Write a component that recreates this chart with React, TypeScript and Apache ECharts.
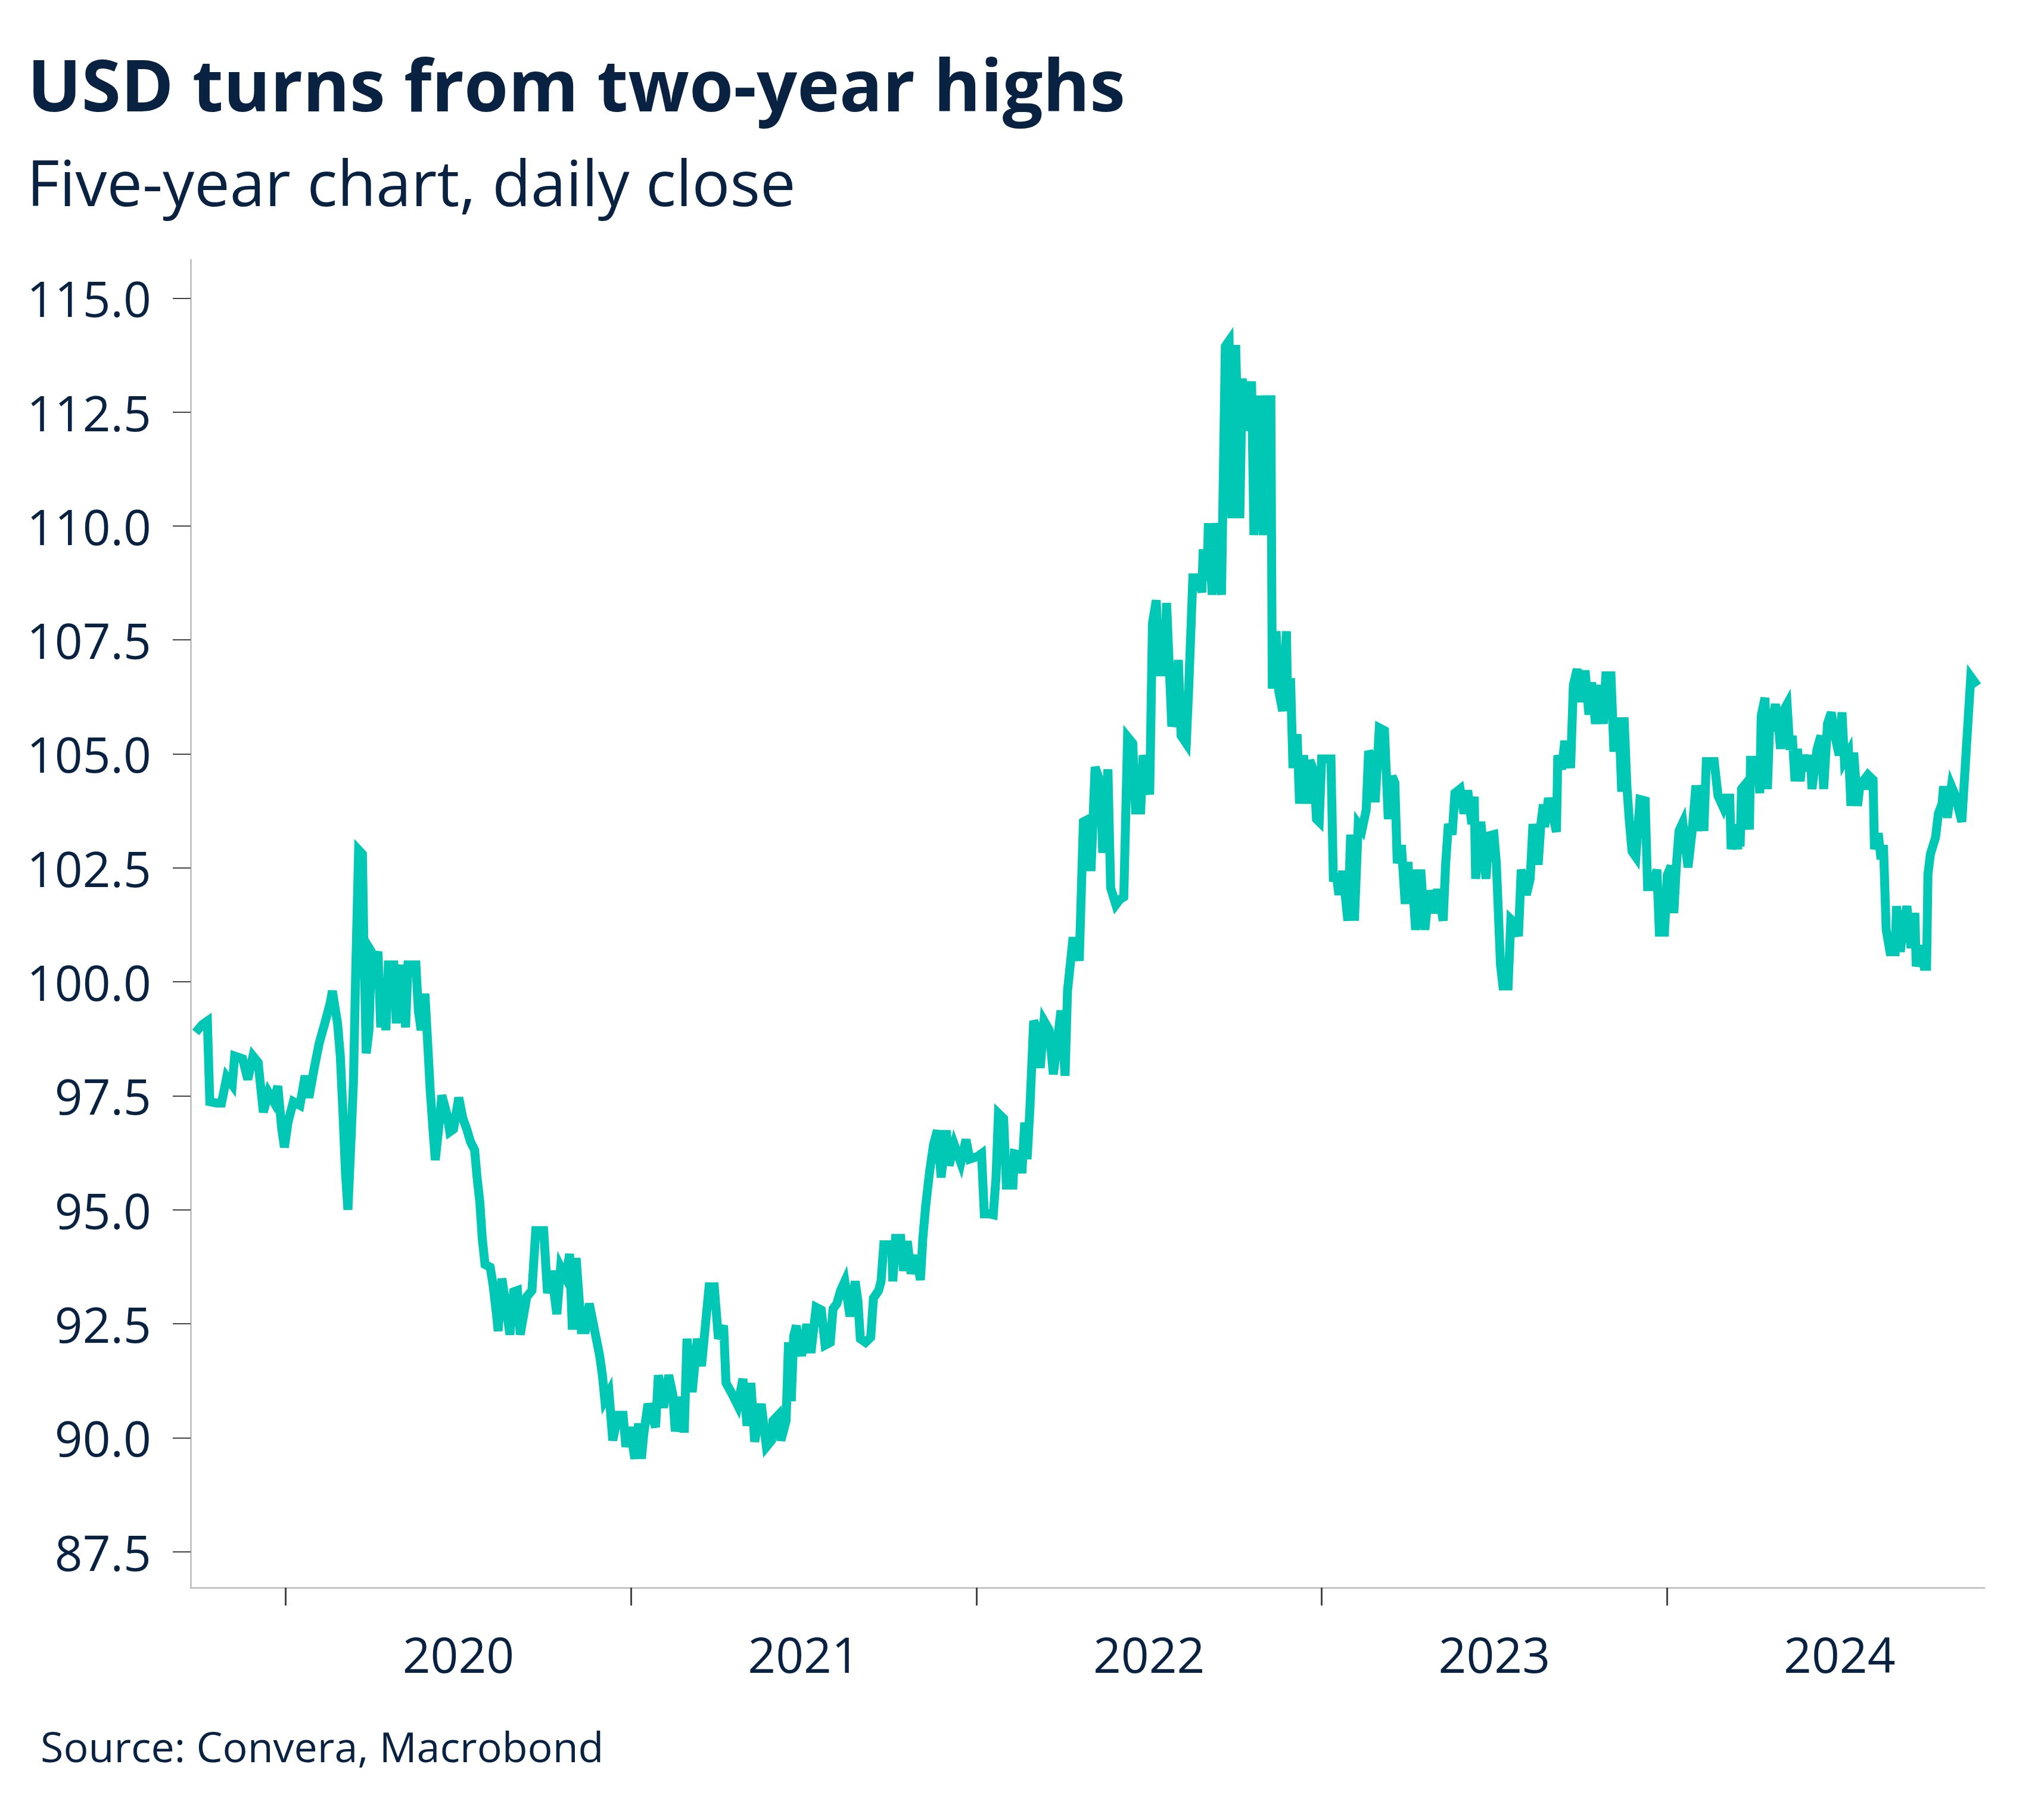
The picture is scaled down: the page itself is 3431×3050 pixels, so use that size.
import React, { useEffect, useRef } from "react";
import * as echarts from "echarts";

const titleText = "USD turns from two-year highs";
const subtitleText = "Five-year chart, daily close";
const sourceText = "Source: Convera, Macrobond";

const yearBoundaries = [2020, 2021, 2022, 2023, 2024];
const yearLabelPositions = [2020.5, 2021.5, 2022.5, 2023.5, 2024.5];
const yTickValues = [87.5, 90, 92.5, 95, 97.5, 100, 102.5, 105, 107.5, 110, 112.5, 115];

// [decimal year, index close]
const usdIndex: [number, number][] = [
  [2019.739, 98.89], [2019.758, 99.06], [2019.773, 99.14], [2019.780, 97.37], [2019.799, 97.34],
  [2019.814, 97.34], [2019.829, 97.91], [2019.845, 97.74], [2019.852, 98.37], [2019.875, 98.31],
  [2019.890, 97.86], [2019.905, 98.37], [2019.920, 98.23], [2019.935, 97.14], [2019.950, 97.57],
  [2019.965, 97.37], [2019.977, 97.71], [2019.988, 96.80], [2019.996, 96.37], [2020.007, 96.94],
  [2020.022, 97.37], [2020.041, 97.29], [2020.056, 97.94], [2020.067, 97.46], [2020.082, 98.09],
  [2020.097, 98.66], [2020.113, 99.09], [2020.128, 99.51], [2020.135, 99.80], [2020.150, 99.09],
  [2020.158, 98.37], [2020.165, 97.23], [2020.173, 95.80], [2020.180, 95.00], [2020.188, 96.37],
  [2020.196, 97.80], [2020.203, 100.37], [2020.211, 102.89], [2020.222, 102.80], [2020.226, 100.94],
  [2020.233, 98.43], [2020.241, 98.94], [2020.248, 100.66], [2020.260, 100.51], [2020.267, 100.66],
  [2020.275, 99.00], [2020.282, 99.94], [2020.290, 98.94], [2020.297, 100.37], [2020.313, 100.37],
  [2020.320, 99.09], [2020.328, 99.80], [2020.339, 100.37], [2020.347, 99.00], [2020.354, 100.37],
  [2020.377, 100.37], [2020.384, 99.37], [2020.392, 98.94], [2020.403, 99.74], [2020.411, 98.66],
  [2020.418, 97.66], [2020.426, 96.80], [2020.433, 96.09], [2020.445, 96.94], [2020.452, 97.51],
  [2020.467, 97.09], [2020.475, 96.71], [2020.486, 96.77], [2020.501, 97.46], [2020.513, 97.00],
  [2020.524, 96.77], [2020.535, 96.49], [2020.547, 96.31], [2020.554, 95.71], [2020.562, 95.17],
  [2020.569, 94.37], [2020.577, 93.80], [2020.592, 93.74], [2020.600, 93.37], [2020.611, 92.66],
  [2020.615, 92.34], [2020.626, 93.49], [2020.637, 92.94], [2020.649, 92.26], [2020.660, 93.20],
  [2020.671, 93.23], [2020.679, 92.26], [2020.698, 93.09], [2020.713, 93.23], [2020.724, 94.54],
  [2020.747, 94.54], [2020.758, 93.17], [2020.769, 93.66], [2020.785, 92.71], [2020.796, 93.74],
  [2020.811, 93.51], [2020.822, 94.03], [2020.830, 92.37], [2020.841, 93.94], [2020.856, 92.37],
  [2020.868, 92.37], [2020.879, 92.94], [2020.894, 92.37], [2020.909, 91.80], [2020.917, 91.37],
  [2020.924, 90.83], [2020.936, 91.00], [2020.947, 89.94], [2020.962, 90.49], [2020.977, 90.49],
  [2020.985, 89.80], [2020.996, 90.23], [2021.011, 89.54], [2021.022, 90.31], [2021.030, 89.54],
  [2021.037, 90.09], [2021.049, 90.74], [2021.060, 90.49], [2021.071, 90.23], [2021.079, 91.37],
  [2021.094, 90.66], [2021.109, 91.37], [2021.121, 90.94], [2021.128, 90.14], [2021.147, 90.89],
  [2021.154, 90.11], [2021.162, 92.17], [2021.177, 91.00], [2021.192, 92.17], [2021.204, 91.57],
  [2021.226, 93.31], [2021.241, 93.31], [2021.253, 92.17], [2021.268, 92.46], [2021.275, 91.20],
  [2021.294, 90.94], [2021.309, 90.71], [2021.324, 91.29], [2021.336, 90.26], [2021.347, 91.20],
  [2021.358, 89.91], [2021.377, 90.74], [2021.392, 89.80], [2021.407, 89.94], [2021.411, 90.37],
  [2021.426, 90.49], [2021.434, 89.94], [2021.449, 90.37], [2021.456, 92.09], [2021.464, 90.80],
  [2021.471, 92.23], [2021.479, 92.46], [2021.483, 92.09], [2021.494, 91.80], [2021.509, 92.49],
  [2021.521, 91.86], [2021.536, 92.86], [2021.551, 92.80], [2021.562, 92.03], [2021.577, 92.09],
  [2021.585, 92.83], [2021.596, 92.94], [2021.607, 93.23], [2021.619, 93.43], [2021.634, 92.66],
  [2021.649, 93.43], [2021.657, 93.00], [2021.664, 92.17], [2021.679, 92.09], [2021.694, 92.20],
  [2021.702, 93.06], [2021.717, 93.23], [2021.724, 93.43], [2021.732, 94.23], [2021.755, 94.23],
  [2021.758, 93.43], [2021.766, 94.37], [2021.781, 94.37], [2021.789, 93.66], [2021.800, 94.31],
  [2021.811, 93.60], [2021.826, 94.00], [2021.838, 93.46], [2021.845, 94.37], [2021.853, 95.06],
  [2021.864, 95.80], [2021.876, 96.43], [2021.887, 96.74], [2021.898, 95.71], [2021.913, 96.74],
  [2021.921, 95.97], [2021.936, 96.43], [2021.955, 96.03], [2021.970, 96.54], [2021.981, 96.11],
  [2022.004, 96.17], [2022.015, 96.23], [2022.023, 94.91], [2022.038, 94.91], [2022.049, 94.89],
  [2022.057, 95.71], [2022.064, 97.11], [2022.079, 97.00], [2022.087, 95.54], [2022.106, 95.54],
  [2022.110, 96.23], [2022.128, 96.20], [2022.132, 95.80], [2022.140, 96.91], [2022.147, 96.11],
  [2022.155, 97.20], [2022.166, 99.14], [2022.178, 98.94], [2022.185, 98.11], [2022.196, 99.14],
  [2022.211, 98.94], [2022.223, 97.97], [2022.234, 98.66], [2022.245, 99.37], [2022.257, 97.94],
  [2022.264, 99.80], [2022.279, 100.89], [2022.291, 100.89], [2022.298, 100.46], [2022.310, 103.51],
  [2022.325, 103.57], [2022.332, 102.43], [2022.344, 104.71], [2022.359, 104.37], [2022.366, 102.83],
  [2022.381, 104.66], [2022.389, 102.06], [2022.404, 101.69], [2022.415, 101.80], [2022.427, 101.86],
  [2022.438, 105.37], [2022.453, 105.23], [2022.461, 103.77], [2022.476, 103.77], [2022.483, 104.97],
  [2022.502, 104.11], [2022.510, 107.86], [2022.521, 108.37], [2022.529, 106.80], [2022.544, 106.80],
  [2022.551, 108.31], [2022.566, 105.60], [2022.578, 106.09], [2022.585, 107.06], [2022.593, 105.40],
  [2022.608, 105.23], [2022.615, 106.43], [2022.627, 108.86], [2022.646, 108.86], [2022.653, 108.54],
  [2022.657, 109.49], [2022.668, 108.80], [2022.672, 110.06], [2022.683, 108.49], [2022.695, 110.06],
  [2022.710, 108.49], [2022.721, 113.94], [2022.732, 114.06], [2022.740, 110.17], [2022.751, 113.97],
  [2022.763, 110.17], [2022.770, 113.23], [2022.782, 112.09], [2022.797, 113.17], [2022.804, 109.80],
  [2022.819, 112.86], [2022.831, 109.80], [2022.838, 112.77], [2022.853, 112.77], [2022.857, 106.43],
  [2022.868, 107.69], [2022.876, 106.37], [2022.887, 105.94], [2022.898, 107.69], [2022.902, 105.94],
  [2022.910, 106.66], [2022.917, 104.69], [2022.929, 105.43], [2022.936, 103.91], [2022.948, 104.97],
  [2022.959, 103.91], [2022.966, 104.86], [2022.978, 104.60], [2022.985, 103.57], [2022.993, 103.51],
  [2023.000, 104.89], [2023.027, 104.89], [2023.034, 102.20], [2023.042, 102.37], [2023.050, 101.91],
  [2023.061, 102.43], [2023.076, 101.34], [2023.084, 103.23], [2023.095, 101.34], [2023.106, 103.46],
  [2023.117, 103.34], [2023.129, 103.77], [2023.136, 105.06], [2023.151, 104.80], [2023.155, 103.94],
  [2023.167, 105.57], [2023.182, 105.51], [2023.193, 103.57], [2023.204, 104.51], [2023.212, 104.37],
  [2023.219, 102.60], [2023.231, 103.00], [2023.242, 101.71], [2023.250, 102.63], [2023.257, 101.71],
  [2023.261, 102.46], [2023.272, 101.14], [2023.287, 102.46], [2023.299, 101.14], [2023.310, 102.00],
  [2023.325, 101.51], [2023.336, 102.03], [2023.352, 101.34], [2023.359, 102.57], [2023.367, 103.46],
  [2023.378, 103.23], [2023.386, 104.14], [2023.401, 104.23], [2023.412, 103.69], [2023.423, 104.20],
  [2023.435, 103.46], [2023.442, 104.06], [2023.446, 102.26], [2023.461, 103.51], [2023.476, 102.26],
  [2023.484, 103.20], [2023.499, 103.23], [2023.506, 102.60], [2023.510, 101.86], [2023.518, 100.37],
  [2023.525, 99.91], [2023.540, 99.91], [2023.548, 101.37], [2023.559, 101.29], [2023.570, 101.00],
  [2023.578, 102.46], [2023.593, 101.91], [2023.604, 102.26], [2023.612, 103.46], [2023.627, 102.57],
  [2023.635, 103.46], [2023.642, 103.89], [2023.646, 103.40], [2023.657, 104.03], [2023.669, 103.66],
  [2023.680, 103.29], [2023.684, 104.97], [2023.695, 104.66], [2023.703, 105.20], [2023.714, 105.20],
  [2023.721, 104.69], [2023.729, 106.51], [2023.740, 106.86], [2023.752, 106.14], [2023.763, 106.83],
  [2023.774, 105.86], [2023.782, 106.57], [2023.793, 105.66], [2023.804, 106.51], [2023.816, 105.66],
  [2023.823, 106.71], [2023.838, 106.71], [2023.846, 105.14], [2023.854, 105.14], [2023.861, 105.80],
  [2023.869, 104.17], [2023.876, 105.80], [2023.884, 104.29], [2023.891, 103.54], [2023.899, 102.86],
  [2023.910, 102.74], [2023.922, 104.00], [2023.937, 103.97], [2023.944, 102.09], [2023.959, 102.09],
  [2023.971, 102.46], [2023.978, 101.09], [2023.993, 101.09], [2024.001, 102.34], [2024.012, 102.54],
  [2024.020, 101.51], [2024.027, 102.51], [2024.035, 103.31], [2024.046, 103.49], [2024.061, 102.51],
  [2024.073, 103.31], [2024.084, 104.31], [2024.091, 103.31], [2024.103, 104.31], [2024.107, 103.31],
  [2024.114, 104.83], [2024.137, 104.83], [2024.148, 104.08], [2024.163, 103.83], [2024.171, 104.03],
  [2024.182, 104.03], [2024.186, 102.91], [2024.197, 103.34], [2024.205, 102.91], [2024.208, 103.46],
  [2024.212, 102.97], [2024.216, 104.23], [2024.231, 104.37], [2024.239, 103.34], [2024.242, 104.86],
  [2024.261, 104.86], [2024.269, 104.14], [2024.273, 105.83], [2024.284, 106.23], [2024.291, 104.23],
  [2024.299, 105.94], [2024.307, 105.80], [2024.314, 106.09], [2024.322, 105.71], [2024.329, 105.11],
  [2024.337, 105.94], [2024.348, 106.09], [2024.356, 105.09], [2024.363, 105.40], [2024.371, 104.40],
  [2024.378, 105.11], [2024.386, 104.40], [2024.393, 104.97], [2024.405, 104.63], [2024.416, 104.97],
  [2024.420, 104.23], [2024.435, 105.11], [2024.446, 105.40], [2024.454, 104.23], [2024.465, 105.66],
  [2024.476, 105.91], [2024.488, 105.34], [2024.499, 104.97], [2024.507, 105.91], [2024.514, 104.86],
  [2024.526, 105.03], [2024.533, 103.86], [2024.541, 105.03], [2024.552, 103.86], [2024.559, 104.31],
  [2024.571, 104.43], [2024.575, 104.23], [2024.586, 104.51], [2024.597, 104.43], [2024.601, 102.91],
  [2024.612, 103.26], [2024.620, 102.69], [2024.627, 103.00], [2024.635, 101.14], [2024.646, 100.66],
  [2024.661, 100.66], [2024.665, 101.66], [2024.676, 100.66], [2024.684, 101.20], [2024.695, 101.66],
  [2024.707, 100.74], [2024.718, 101.51], [2024.722, 100.34], [2024.737, 100.80], [2024.745, 100.34],
  [2024.752, 100.34], [2024.756, 102.37], [2024.763, 102.80], [2024.778, 103.17], [2024.786, 103.69],
  [2024.797, 103.91], [2024.801, 104.29], [2024.812, 103.60], [2024.824, 104.29], [2024.835, 104.09],
  [2024.854, 103.51], [2024.880, 106.69], [2024.899, 106.49],
];

const NAVY = "#0a2242";
const TEAL = "#00c8b4";
const FONT = "'Open Sans', 'Noto Sans', sans-serif";

export default function App() {
  const ref = useRef<HTMLDivElement>(null);

  useEffect(() => {
    document.body.style.margin = "0";
    const chart = echarts.init(ref.current as HTMLDivElement, null, { renderer: "svg" });
    chart.setOption({
      animation: false,
      backgroundColor: "#ffffff",
      grid: { left: 320, right: 100, top: 436, bottom: 385, containLabel: false },
      graphic: [
        {
          type: "text",
          left: 46,
          top: 80,
          style: { text: titleText, font: `bold 120px ${FONT}`, fill: NAVY },
        },
        {
          type: "text",
          left: 45,
          top: 252,
          style: { text: subtitleText, font: `normal 106px ${FONT}`, fill: NAVY },
        },
        {
          type: "text",
          left: 68,
          top: 2896,
          style: { text: sourceText, font: `normal 70px ${FONT}`, fill: NAVY },
        },
      ],
      xAxis: {
        type: "value",
        min: 2019.7245,
        max: 2024.9195,
        axisLine: { show: true, lineStyle: { color: "#c4c4c4", width: 3 } },
        axisTick: {
          show: true,
          customValues: yearBoundaries,
          length: 30,
          lineStyle: { color: "#444444", width: 3 },
        },
        axisLabel: {
          show: true,
          customValues: yearLabelPositions,
          formatter: (v: number) => String(Math.floor(v)),
          fontSize: 82,
          fontFamily: FONT,
          color: NAVY,
          margin: 70,
        },
        splitLine: { show: false },
      },
      yAxis: {
        type: "value",
        min: 86.71,
        max: 115.84,
        axisLine: { show: true, lineStyle: { color: "#c4c4c4", width: 3 } },
        axisTick: {
          show: true,
          customValues: yTickValues,
          length: 30,
          lineStyle: { color: "#444444", width: 2 },
        },
        axisLabel: {
          show: true,
          customValues: yTickValues,
          formatter: (v: number) => v.toFixed(1),
          fontSize: 82,
          fontFamily: FONT,
          color: NAVY,
          margin: 66,
        },
        splitLine: { show: false },
      },
      series: [
        {
          type: "line",
          data: usdIndex,
          showSymbol: false,
          symbol: "none",
          lineStyle: { color: TEAL, width: 15, join: "miter", cap: "butt" },
          emphasis: { disabled: true },
        },
      ],
    });
    return () => chart.dispose();
  }, []);

  return <div ref={ref} style={{ width: 3431, height: 3050 }} />;
}
